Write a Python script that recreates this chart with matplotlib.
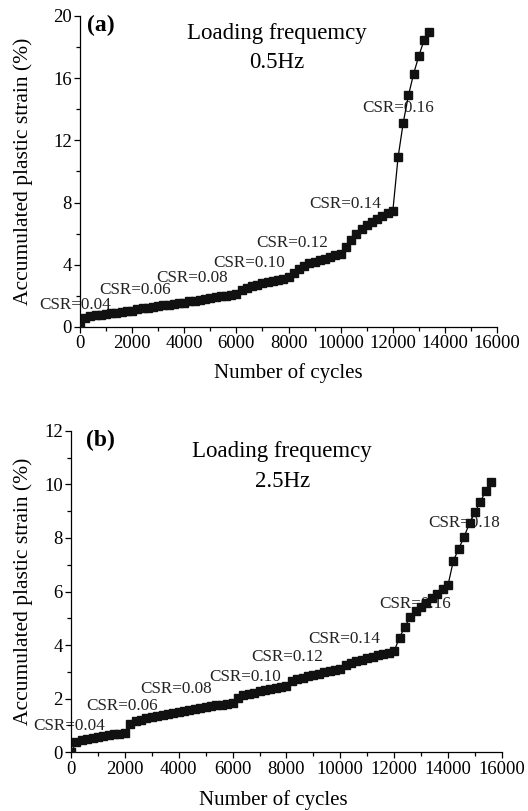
import matplotlib
matplotlib.use("Agg")
import matplotlib.pyplot as plt
from matplotlib.ticker import MultipleLocator

plt.rcParams['font.family'] = ['Liberation Serif', 'DejaVu Serif']
plt.rcParams['mathtext.fontset'] = 'stix'

# cycles are sampled every 200, each CSR stage lasts 2000 cycles
cycles_a = [0] + list(range(200, 13401, 200))
strain_a = [0.0,
            0.60, 0.68, 0.74, 0.79, 0.84, 0.88, 0.92, 0.96, 1.00, 1.04,
            1.15, 1.20, 1.25, 1.30, 1.35, 1.40, 1.44, 1.48, 1.52, 1.56,
            1.65, 1.70, 1.76, 1.82, 1.87, 1.92, 1.97, 2.02, 2.07, 2.12,
            2.35, 2.50, 2.62, 2.72, 2.80, 2.87, 2.95, 3.02, 3.10, 3.20,
            3.50, 3.75, 3.95, 4.10, 4.20, 4.30, 4.40, 4.50, 4.60, 4.72,
            5.16, 5.60, 6.00, 6.30, 6.55, 6.75, 6.95, 7.15, 7.30, 7.46,
            10.90, 13.15, 14.90, 16.30, 17.45, 18.45, 18.95]

cycles_b = [0] + list(range(200, 15601, 200))
strain_b = [0.0,
            0.38, 0.45, 0.50, 0.54, 0.58, 0.61, 0.64, 0.67, 0.70, 0.72,
            1.05, 1.17, 1.22, 1.27, 1.31, 1.35, 1.39, 1.43, 1.47, 1.50,
            1.55, 1.59, 1.63, 1.66, 1.69, 1.72, 1.75, 1.78, 1.81, 1.85,
            2.02, 2.12, 2.18, 2.23, 2.28, 2.32, 2.36, 2.40, 2.44, 2.47,
            2.65, 2.72, 2.78, 2.84, 2.89, 2.94, 2.99, 3.03, 3.07, 3.11,
            3.25, 3.32, 3.40, 3.46, 3.52, 3.57, 3.62, 3.67, 3.72, 3.78,
            4.28, 4.69, 5.04, 5.27, 5.43, 5.58, 5.75, 5.92, 6.08, 6.24,
            7.15, 7.60, 8.05, 8.55, 8.95, 9.35, 9.75, 10.07]

csr_a = ['0.04', '0.06', '0.08', '0.10', '0.12', '0.14', '0.16']
csr_a_pos = [(-1573, 1.41), (729, 2.38), (2916, 3.17), (5103, 4.10),
             (6753, 5.38), (8787, 7.91), (10821, 14.06)]
csr_b = ['0.04', '0.06', '0.08', '0.10', '0.12', '0.14', '0.16', '0.18']
csr_b_pos = [(-1411, 0.98), (557, 1.73), (2561, 2.35), (5123, 2.82),
             (6681, 3.54), (8797, 4.22), (11450, 5.53), (13252, 8.57)]


def draw_panel(ax, cycles, strain, csr, csr_pos, ymax, ymajor, tag, freq,
               xlab_x, ylab_x, tag_x, title_x, title_y, hz_y):
    ax.plot(cycles, strain, color='black', lw=0.9, marker='s', ms=5.8,
            mfc='#111111', mec='#111111', zorder=3)
    for val, (x, y) in zip(csr, csr_pos):
        ax.text(x, y, 'CSR=' + val, fontsize=12.3, ha='left', va='center',
                clip_on=False, zorder=1, color='#222222')
    ax.set_xlim(0, 16000)
    ax.set_ylim(0, ymax)
    ax.xaxis.set_major_locator(MultipleLocator(2000))
    ax.xaxis.set_minor_locator(MultipleLocator(1000))
    ax.yaxis.set_major_locator(MultipleLocator(ymajor))
    ax.yaxis.set_minor_locator(MultipleLocator(ymajor / 2))
    for side in ['top', 'right']:
        ax.spines[side].set_visible(False)
    for side in ['left', 'bottom']:
        ax.spines[side].set_linewidth(0.9)
    ax.tick_params(which='major', direction='out', length=4, width=0.9,
                   labelsize=13.5, pad=2)
    ax.tick_params(which='minor', direction='out', length=3, width=0.9)
    ax.set_xlabel('Number of cycles', fontsize=15)
    ax.set_ylabel('Accumulated plastic strain (%)', fontsize=15.5)
    ax.xaxis.label.set_va('center')
    ax.yaxis.label.set_va('center')
    ax.xaxis.set_label_coords(xlab_x, -0.147)
    ax.yaxis.set_label_coords(ylab_x, 0.5)
    ax.text(tag_x, 0.971, tag, transform=ax.transAxes, fontsize=17,
            fontweight='bold', ha='left', va='center')
    ax.text(title_x, title_y, 'Loading frequemcy', transform=ax.transAxes,
            fontsize=16.5, ha='center', va='center')
    ax.text(title_x, hz_y, freq, transform=ax.transAxes,
            fontsize=16.5, ha='center', va='center')


fig = plt.figure(figsize=(5.28, 8.11), dpi=100)
ax_a = fig.add_axes([0.1515, 0.5968, 0.790, 0.3835])
ax_b = fig.add_axes([0.1345, 0.0724, 0.816, 0.3965])

draw_panel(ax_a, cycles_a, strain_a, csr_a, csr_a_pos, 20, 4, '(a)', '0.5Hz',
           0.499, -0.137, 0.017, 0.472, 0.945, 0.849)
draw_panel(ax_b, cycles_b, strain_b, csr_b, csr_b_pos, 12, 2, '(b)', '2.5Hz',
           0.47, -0.111, 0.035, 0.49, 0.935, 0.841)

fig.savefig('out.png', dpi=100)
